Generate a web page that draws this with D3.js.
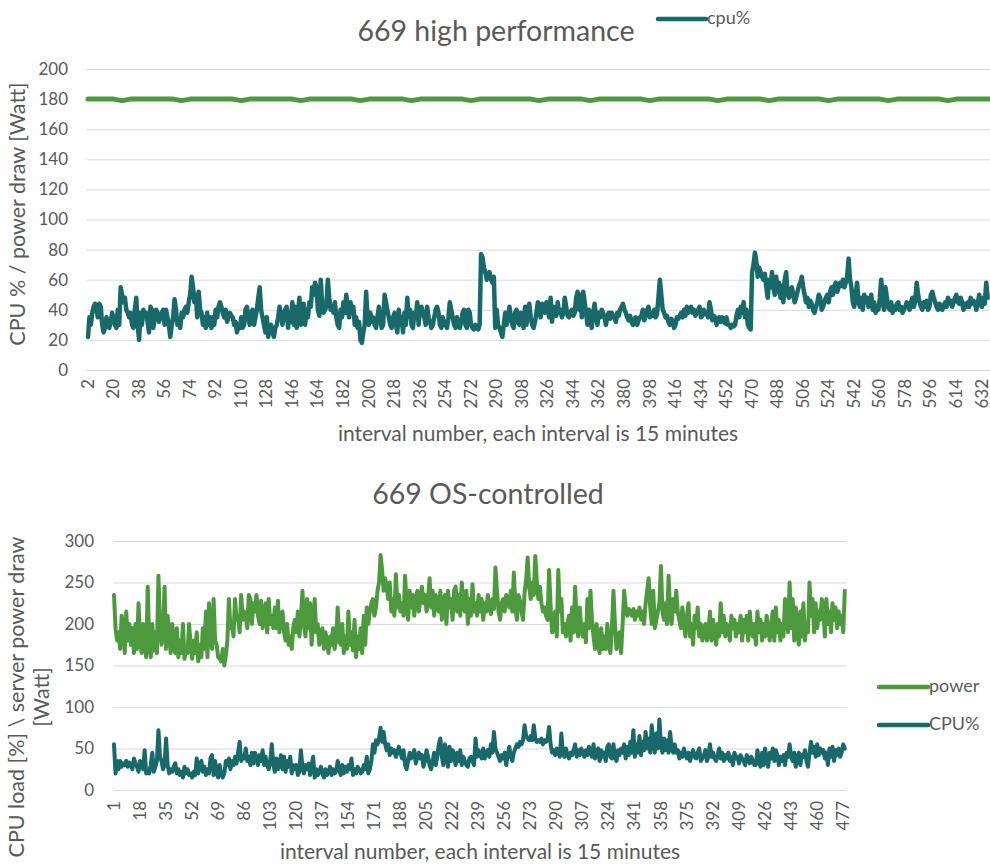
<!DOCTYPE html>
<html>
<head>
<meta charset="utf-8">
<script src="https://cdn.jsdelivr.net/npm/d3@7"></script>
<style>
  body { margin: 0; background: #fff; }
  svg { display: block; font-family: Lato, "Open Sans", sans-serif; }
  .tick text { fill: #595959; }
  .grid line { stroke: #d9d9d9; }
</style>
</head>
<body>
<svg id="chart" width="990" height="867"></svg>
<script>
var GREEN = "#4c9a3d";
var TEAL = "#17696a";

// top chart: 669 high performance
var TOP_TICKS = [2, 20, 38, 56, 74, 92, 110, 128, 146, 164, 182, 200, 218, 236, 254, 272, 290, 308,
  326, 344, 362, 380, 398, 416, 434, 452, 470, 488, 506, 524, 542, 560, 578, 596, 614, 632];
var TOP_Y_TICKS = [0, 20, 40, 60, 80, 100, 120, 140, 160, 180, 200];

// cpu% per interval, starting at interval 2
var TOP_CPU_START = 2;
var TOP_CPU = [
  22,35,30,38,42,44,40,35,44,42, 30,25,28,35,30,28,32,38,35,30,
  28,40,30,55,50,45,48,40,38,35, 38,30,28,40,48,30,20,38,30,40,
  35,38,32,25,42,40,28,35,40,38, 32,35,38,40,30,40,35,30,22,30,
  35,47,40,30,32,28,38,35,40,42, 38,45,50,62,55,45,50,35,52,40,
  38,30,35,28,38,30,35,28,35,30, 40,35,42,45,42,38,35,40,32,35,
  38,36,35,30,32,25,30,28,35,28, 30,40,42,35,30,38,40,30,35,40,
  48,55,40,35,30,25,35,22,28,30, 25,22,28,30,35,42,38,30,35,40,
  42,28,38,32,45,30,42,28,38,48, 30,35,44,30,40,35,45,42,55,50,
  58,55,40,36,60,45,38,40,42,60, 48,40,42,38,45,35,30,28,40,35,
  45,38,50,42,35,45,38,42,30,35, 28,32,20,18,25,30,52,35,30,38,
  32,35,30,28,35,42,35,28,30,50, 45,40,35,30,28,35,38,30,25,40,
  30,35,25,38,30,48,35,40,30,28, 38,35,45,30,40,42,38,35,30,42,
  35,32,28,30,35,40,42,38,30,28, 35,30,32,28,35,45,40,35,30,28,
  35,30,28,32,38,40,30,28,40,38, 30,28,27,30,28,27,30,77,75,68,
  65,60,63,65,60,58,62,28,40,30, 28,25,22,30,38,30,35,42,35,30,
  28,38,40,32,30,38,35,28,42,30, 40,44,35,30,28,32,38,45,40,35,
  44,42,38,45,40,35,48,32,42,38, 36,45,38,40,35,38,48,42,36,35,
  38,40,36,38,48,52,40,50,35,52, 45,38,30,40,35,28,38,44,36,30,
  38,35,40,38,35,30,36,38,34,38, 36,35,32,38,36,40,42,44,40,38,
  35,33,36,32,30,34,35,30,33,35, 36,40,33,36,40,42,35,38,36,40,
  35,37,48,60,50,40,38,35,36,32, 30,34,33,28,30,35,34,36,38,35,
  40,36,42,38,40,42,38,40,36,38, 40,42,35,36,40,37,38,35,45,40,
  33,36,35,30,33,35,32,35,33,31, 35,30,30,28,30,29,30,36,40,35,
  42,38,45,35,40,30,28,27,65,70, 78,72,62,68,65,62,60,64,55,48,
  60,55,65,55,50,62,52,58,48,56, 45,60,65,50,48,52,55,50,45,48,
  52,56,58,62,55,50,45,48,42,46, 44,40,38,42,45,50,48,40,42,45,
  48,50,45,52,55,50,56,58,52,55, 58,56,60,55,58,62,74,60,55,45,
  42,50,58,45,42,48,40,50,45,48, 42,44,50,40,45,38,42,40,48,60,
  45,40,55,48,42,40,45,38,42,40, 44,45,40,42,38,40,42,45,42,40,
  45,48,42,46,58,50,45,42,40,45, 42,46,40,42,50,52,48,45,42,40,
  44,43,40,42,45,42,48,44,46,42, 45,48,50,45,44,48,45,40,44,42,
  45,42,48,44,46,45,40,44,50,45, 42,48,44,58,48
];

// power draw [Watt], one reading every 6 intervals, starting at interval 2
var TOP_POWER_START = 2;
var TOP_POWER_STEP = 6;
var TOP_POWER = [
  180,180,180,180,179,180,180,180,180,180, 180,179,180,180,180,180,180,180,179,180,
  180,180,180,180,180,179,180,180,180,180, 180,180,179,180,180,180,180,180,179,180,
  180,180,180,180,180,179,180,180,180,180, 180,180,180,179,180,180,180,180,180,179,
  180,180,180,180,180,180,179,180,180,180, 180,180,180,180,179,180,180,180,180,180,
  179,180,180,180,180,180,180,179,180,180, 180,180,180,180,179,180,180,180,180,180,
  180,179,180,180,180,180,180
];

// bottom chart: 669 OS-controlled
var BOT_TICKS = [1, 18, 35, 52, 69, 86, 103, 120, 137, 154, 171, 188, 205, 222, 239, 256, 273,
  290, 307, 324, 341, 358, 375, 392, 409, 426, 443, 460, 477];
var BOT_Y_TICKS = [0, 50, 100, 150, 200, 250, 300];

var BOT_START = 1;
var BOT_POWER = [
  235,195,180,190,170,210,200,165,215,180, 200,175,195,165,200,170,225,185,165,200,
  175,160,245,175,160,200,168,190,165,258, 200,175,190,245,170,210,190,165,200,175,
  165,195,160,180,165,200,158,170,165,200, 175,158,180,165,190,155,175,160,195,170,
  215,160,225,190,170,230,180,175,160,158, 155,170,150,162,180,230,195,200,185,230,
  205,210,190,235,205,215,210,195,235,230, 200,225,215,235,210,200,228,195,215,225,
  190,230,200,210,195,220,195,228,190,205, 215,190,180,200,175,185,170,195,205,190,
  215,185,205,240,200,185,230,195,225,175, 205,230,190,200,175,185,195,170,190,180,
  165,185,175,195,170,180,220,180,175,200, 165,185,170,215,175,190,168,205,160,185,
  170,195,165,210,175,220,200,215,225,230, 210,220,240,250,283,265,240,255,245,230,
  250,215,230,210,260,220,235,215,225,210, 258,225,205,240,220,235,210,230,240,215,
  230,245,225,235,215,230,255,220,240,210, 235,225,215,240,205,225,235,200,240,220,
  230,205,240,245,215,235,210,250,225,215, 240,200,230,210,248,215,225,210,235,215,
  230,205,225,215,235,220,212,230,218,268, 240,215,205,225,230,215,235,225,220,240,
  215,262,220,205,235,228,215,205,238,252, 280,245,230,250,235,282,250,230,245,225,
  215,220,210,205,265,220,190,200,215,185, 265,215,230,190,200,185,200,210,180,220,
  190,245,200,185,220,195,185,200,178,230, 195,240,205,185,170,200,175,165,195,170,
  185,170,200,175,165,195,240,200,170,180, 190,165,200,240,220,210,218,215,210,218,
  205,215,210,220,205,215,200,225,240,255, 220,200,240,195,205,215,225,270,215,205,
  225,200,258,215,200,230,215,240,215,205, 195,220,200,185,210,225,185,200,175,210,
  195,220,185,200,180,190,200,180,190,215, 180,205,190,175,200,185,225,190,210,185,
  200,195,180,210,195,205,185,200,190,210, 180,205,190,210,180,215,195,185,200,175,
  215,190,205,180,200,185,210,195,180,200, 215,180,220,190,205,180,200,185,230,210,
  190,250,195,230,180,220,195,175,215,185, 225,180,200,190,250,210,230,190,225,195,
  215,205,230,220,185,230,200,215,190,225, 205,220,195,215,200,210,190,240
];
var BOT_CPU = [
  55,20,35,25,35,28,32,30,35,28, 33,30,25,38,32,28,22,35,30,25,
  48,20,25,20,30,45,22,28,35,72, 40,35,25,30,62,30,20,25,22,28,
  32,20,25,18,22,15,28,20,25,18, 20,15,22,18,38,20,30,35,22,28,
  18,25,20,38,42,18,35,20,15,30, 18,15,20,35,30,38,25,35,30,40,
  32,45,58,35,40,38,50,35,40,30, 45,32,45,38,30,42,35,48,30,40,
  30,25,35,55,30,22,38,25,30,42, 25,40,22,35,28,40,20,30,25,30,
  18,22,48,28,20,30,25,32,18,30, 40,15,25,18,22,28,20,15,25,18,
  22,28,18,25,20,22,35,25,18,30, 20,28,22,30,25,38,18,25,20,28,
  25,20,22,30,25,40,20,25,35,55, 45,60,55,62,75,58,70,55,48,55,
  42,50,45,48,40,46,52,44,38,48, 30,25,35,45,38,42,48,32,40,45,
  38,42,28,35,48,40,30,25,35,45, 30,40,55,62,40,30,55,45,28,52,
  35,48,42,30,45,35,48,30,40,35, 30,28,38,40,35,30,62,40,48,42,
  38,50,38,45,48,40,55,45,70,50, 45,40,35,42,38,45,30,42,52,40,
  35,45,50,55,52,58,55,60,78,65, 62,60,65,60,78,62,58,60,58,62,
  55,60,58,62,76,55,45,48,42,50, 45,40,68,45,40,50,42,38,45,42,
  48,55,40,48,42,50,45,40,48,42, 52,45,40,55,38,45,50,35,48,40,
  45,35,52,55,40,38,55,40,35,48, 42,50,45,55,38,52,42,58,45,72,
  40,55,45,65,42,58,48,70,50,62, 45,78,55,45,68,50,85,55,45,62,
  48,60,45,70,50,45,55,45,48,38, 45,40,50,42,38,45,35,42,48,40,
  38,45,50,35,38,42,48,35,40,55, 40,45,38,35,42,50,38,45,35,42,
  38,45,35,40,30,45,38,40,32,42, 38,35,30,42,38,32,40,35,30,30,
  48,35,28,45,30,50,35,28,45,38, 50,35,48,42,30,40,35,42,30,45,
  40,55,40,35,45,28,38,45,30,42, 40,48,35,28,45,58,45,52,40,55,
  42,50,45,48,38,45,30,50,40,52, 35,48,42,50,40,45,55,50
];

var svg = d3.select("#chart");
svg.append("rect").attr("width", 990).attr("height", 867).attr("fill", "#fff");

function toPoints(start, step, values) {
  return values.map(function(v, k) { return { i: start + k * step, v: v }; });
}

function drawPanel(opt) {
  var g = svg.append("g");
  var x = d3.scaleLinear().domain(opt.xDomain).range([opt.left + 1, opt.xEnd]);
  var y = d3.scaleLinear().domain(opt.yDomain).range([opt.bottom, opt.top]);

  // horizontal gridlines + y labels
  var yAxis = d3.axisLeft(y)
    .tickValues(opt.yTicks)
    .tickSizeInner(-(opt.right - opt.left))
    .tickSizeOuter(0)
    .tickPadding(19);
  g.append("g")
    .attr("class", "grid")
    .attr("transform", "translate(" + opt.left + ",0)")
    .call(yAxis)
    .call(function(a) { a.select(".domain").remove(); })
    .selectAll("text")
    .attr("font-size", 17)
    .attr("font-family", "Lato");

  var xAxis = d3.axisBottom(x).tickValues(opt.xTicks).tickSize(0);
  g.append("g")
    .attr("transform", "translate(0," + opt.bottom + ")")
    .call(xAxis)
    .call(function(a) { a.select(".domain").remove(); })
    .selectAll("text")
    .attr("font-size", 17)
    .attr("font-family", "Lato")
    .attr("text-anchor", "end")
    .attr("transform", "rotate(-90)")
    .attr("x", -opt.xLabelGap)
    .attr("y", 0)
    .attr("dy", "0.3em");

  var line = d3.line()
    .x(function(d) { return x(d.i); })
    .y(function(d) { return y(d.v); });

  opt.series.forEach(function(s) {
    g.append("path")
      .datum(s.points)
      .attr("fill", "none")
      .attr("stroke", s.color)
      .attr("stroke-width", s.width)
      .attr("stroke-linejoin", "round")
      .attr("stroke-linecap", "round")
      .attr("d", line);
  });

  g.append("text")
    .attr("x", opt.titleX)
    .attr("y", opt.titleY)
    .attr("text-anchor", "middle")
    .attr("font-size", 28.5)
    .attr("fill", "#595959")
    .text(opt.title);

  g.append("text")
    .attr("x", opt.xTitleX)
    .attr("y", opt.xTitleY)
    .attr("text-anchor", "middle")
    .attr("font-size", 21)
    .attr("fill", "#595959")
    .text("interval number, each interval is 15 minutes");

  opt.yTitle.forEach(function(t, k) {
    g.append("text")
      .attr("transform", "translate(" + (opt.yTitleX + k * 25) + "," + opt.yTitleY + ") rotate(-90)")
      .attr("text-anchor", "middle")
      .attr("font-size", 21.5)
      .attr("fill", "#595959")
      .text(t);
  });
  return g;
}

drawPanel({
  title: "669 high performance", titleX: 496, titleY: 41,
  left: 87, right: 990, xEnd: 88 + 633 * 1.419, top: 69, bottom: 370,
  xDomain: [2, 635], yDomain: [0, 200],
  xTicks: TOP_TICKS, yTicks: TOP_Y_TICKS, xLabelGap: 9,
  xTitleX: 538, xTitleY: 441,
  yTitle: ["CPU % / power draw [Watt]"], yTitleX: 25, yTitleY: 214,
  series: [
    { points: toPoints(TOP_POWER_START, TOP_POWER_STEP, TOP_POWER), color: GREEN, width: 5 },
    { points: toPoints(TOP_CPU_START, 1, TOP_CPU), color: TEAL, width: 4.5 }
  ]
});

drawPanel({
  title: "669 OS-controlled", titleX: 488, titleY: 504,
  left: 113, right: 847, xEnd: 114 + 477 * 1.532, top: 541, bottom: 790,
  xDomain: [1, 478], yDomain: [0, 300],
  xTicks: BOT_TICKS, yTicks: BOT_Y_TICKS, xLabelGap: 11,
  xTitleX: 480, xTitleY: 859,
  yTitle: ["CPU load [%] \\ server power draw", "[Watt]"], yTitleX: 24, yTitleY: 697,
  series: [
    { points: toPoints(BOT_START, 1, BOT_POWER), color: GREEN, width: 4 },
    { points: toPoints(BOT_START, 1, BOT_CPU), color: TEAL, width: 4 }
  ]
});

// legends
function legendItem(x1, x2, yLine, label, color, size) {
  svg.append("line")
    .attr("x1", x1).attr("x2", x2)
    .attr("y1", yLine).attr("y2", yLine)
    .attr("stroke", color).attr("stroke-width", 4.5)
    .attr("stroke-linecap", "round");
  svg.append("text")
    .attr("x", x2 + 1)
    .attr("y", yLine + 5)
    .attr("font-size", size)
    .attr("fill", "#595959")
    .text(label);
}
legendItem(658, 706, 19, "cpu%", TEAL, 18);
legendItem(879, 928, 687, "power", GREEN, 18);
legendItem(879, 928, 725, "CPU%", TEAL, 18);
</script>
</body>
</html>
